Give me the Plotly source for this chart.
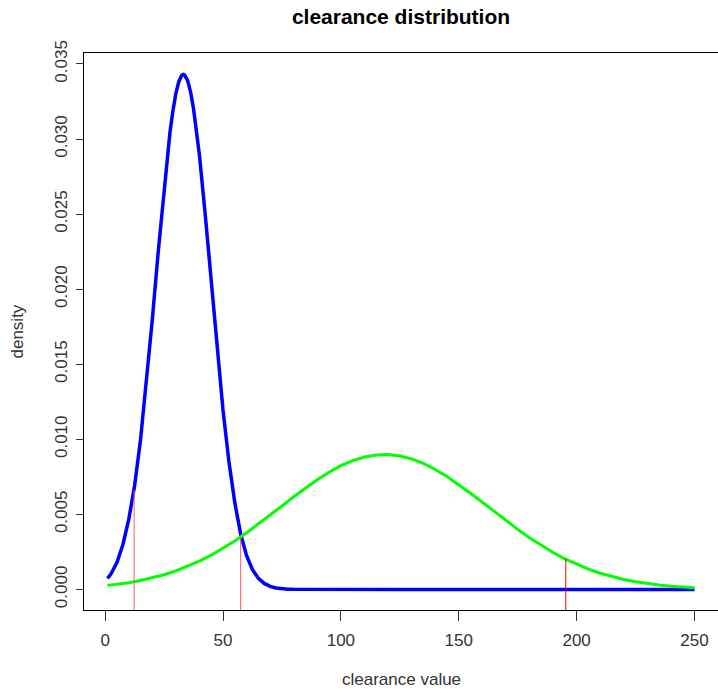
import plotly.graph_objects as go

# Blue density curve
blue_x = [1, 2.5, 5, 7.5, 10, 12.5, 15, 17.5, 20, 22.5, 25, 27.5, 28.75, 30, 31.25,
          32.5, 33.2, 33.75, 35, 36.25, 37.5, 40, 42.5, 45, 47.5, 50, 52.5, 55, 57.5,
          60, 62.5, 65, 67.5, 70, 72.5, 75, 77.5, 80, 90, 100, 125, 150, 175, 200,
          225, 250]
blue_y = [0.00073, 0.00104, 0.00179, 0.00296, 0.00465, 0.00690, 0.00995, 0.01370,
          0.01795, 0.02245, 0.02675, 0.03045, 0.03187, 0.03302, 0.03382, 0.03424,
          0.03430, 0.03426, 0.03389, 0.03313, 0.03202, 0.02893, 0.02490, 0.02045,
          0.01600, 0.01195, 0.00852, 0.00578, 0.00368, 0.00225, 0.00132, 0.00074,
          0.00040, 0.00020, 0.00010, 0.00005, 0.00002, 0.00001, 0.0, 0.0, 0.0, 0.0,
          0.0, 0.0, 0.0, 0.0]

# Green density curve
green_x = [1, 5, 10, 15, 20, 25, 30, 35, 40, 45, 50, 55, 60, 65, 70, 75, 80, 85,
           90, 95, 100, 105, 110, 115, 120, 125, 130, 135, 140, 145, 150, 155,
           160, 165, 170, 175, 180, 185, 190, 195, 200, 205, 210, 215, 220, 225,
           230, 235, 240, 245, 250]
green_y = [0.00027, 0.00034, 0.00045, 0.00059, 0.00077, 0.00098, 0.00123, 0.00153,
           0.00188, 0.00228, 0.00273, 0.00323, 0.00377, 0.00435, 0.00495, 0.00556,
           0.00617, 0.00676, 0.00731, 0.00781, 0.00824, 0.00858, 0.00882, 0.00896,
           0.00898, 0.00889, 0.00869, 0.00839, 0.00799, 0.00752, 0.00699, 0.00641,
           0.00581, 0.00519, 0.00459, 0.00400, 0.00344, 0.00293, 0.00246, 0.00204,
           0.00167, 0.00135, 0.00108, 0.00085, 0.00066, 0.00051, 0.00038, 0.00029,
           0.00021, 0.00016, 0.00011]

# Red cut-off segments
cut_x = [12.3, 57.5, 195.4]
cut_y = [0.0066, 0.0035, 0.00205]
cut_colors = ["#ff5a5a", "#ff5a5a", "#ee0000"]

x_ticks = [0, 50, 100, 150, 200, 250]
y_ticks = [0.000, 0.005, 0.010, 0.015, 0.020, 0.025, 0.030, 0.035]
y_tick_text = ["0.000", "0.005", "0.010", "0.015", "0.020", "0.025", "0.030", "0.035"]

y_lo = -0.00137
y_hi = 0.03573

fig = go.Figure()
fig.add_trace(go.Scatter(x=blue_x, y=blue_y, mode="lines",
                         line=dict(color="#0000ff", width=3.5), showlegend=False))
fig.add_trace(go.Scatter(x=green_x, y=green_y, mode="lines",
                         line=dict(color="#00ff00", width=3), showlegend=False))
for cx, cy, cc in zip(cut_x, cut_y, cut_colors):
    fig.add_trace(go.Scatter(x=[cx, cx], y=[y_lo - 0.001, cy], mode="lines",
                             line=dict(color=cc, width=1), showlegend=False))

font_tick = dict(family="Liberation Sans, Arial, sans-serif", size=17, color="#333333")

fig.update_layout(
    width=718, height=693,
    margin=dict(l=84, r=0, t=53, b=83),
    paper_bgcolor="white", plot_bgcolor="white",
    title=dict(text="<b>clearance distribution</b>", xref="paper", x=0.5,
               xanchor="center", yref="container", y=1 - 17 / 693, yanchor="middle",
               font=dict(family="Liberation Sans, Arial, sans-serif", size=21, color="black")),
    xaxis=dict(range=[-8.96, 259.96], tickvals=x_ticks, ticks="outside", ticklen=10,
               tickcolor="#333333", showline=True, linecolor="black", linewidth=1,
               mirror=True, showgrid=False, zeroline=False, tickfont=font_tick,
               automargin=False, ticklabelstandoff=5),
    yaxis=dict(range=[y_lo, y_hi], tickvals=y_ticks, ticktext=y_tick_text,
               tickangle=-90, ticks="outside", ticklen=7, tickcolor="#333333",
               showline=True, linecolor="black", linewidth=1, mirror=False,
               showgrid=False, zeroline=False, tickfont=font_tick,
               automargin=False, ticklabelstandoff=2),
    annotations=[
        dict(text="clearance value", xref="paper", yref="paper", x=0.5,
             y=-(679 - 610) / 557, xanchor="center", yanchor="middle",
             showarrow=False, font=font_tick),
        dict(text="density", xref="paper", yref="paper", x=-(84 - 17) / 634,
             y=0.5, xanchor="center", yanchor="middle", textangle=-90,
             showarrow=False, font=font_tick),
    ],
)

fig.write_html("out.html", config={"displayModeBar": False},
               post_script="document.body.style.margin='0';")
